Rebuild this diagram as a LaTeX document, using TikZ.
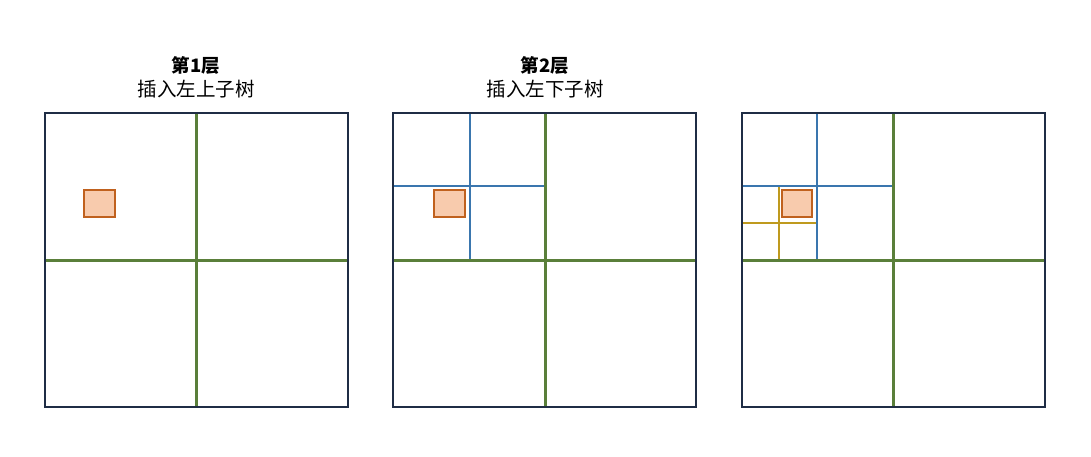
\documentclass[tikz,border=0pt]{standalone}
\usepackage{fontspec}
\newfontfamily\cjk{Noto Sans CJK SC}
\definecolor{framecol}{HTML}{1F2D45}
\definecolor{greencol}{HTML}{5A7F3A}
\definecolor{bluecol}{HTML}{3A76AE}
\definecolor{yellowcol}{HTML}{BF9A1E}
\definecolor{pointfill}{HTML}{F8CBAD}
\definecolor{pointdraw}{HTML}{C0611E}
\tikzset{
	frame/.style={line width=2.2pt,framecol},
	level1/.style={line width=3pt,greencol},
	level2/.style={line width=1.8pt,bluecol},
	level3/.style={line width=1.8pt,yellowcol},
	point/.style={line width=2pt,draw=pointdraw,fill=pointfill},
	title/.style={font=\cjk\fontsize{19.5}{23}\selectfont,align=center},
	head/.style={font=\cjk\bfseries\fontsize{18.5}{22}\selectfont,align=center}
}
\begin{document}
\begin{tikzpicture}[x=1pt,y=-1pt]
	\useasboundingbox (0,0) rectangle (1091,456);
	
	% layer 1
	\draw[level1] (196,113) -- (196,407);
	\draw[level1] (45,260) -- (348,260);
	\draw[frame] (45,113) rectangle (348,407);
	\draw[point] (84,190) rectangle (115,217);
	\node[head] (t1) at (196,65) {第1层};
	\node[title] (s1) at (196,89) {插入左上子树};
	
	% layer 2
	\draw[level2] (470,113) -- (470,260);
	\draw[level2] (393,186) -- (545,186);
	\draw[level1] (545,113) -- (545,407);
	\draw[level1] (393,260) -- (696,260);
	\draw[frame] (393,113) rectangle (696,407);
	\draw[point] (434,190) rectangle (465,217);
	\node[head] (t2) at (545,65) {第2层};
	\node[title] (s2) at (545,89) {插入左下子树};
	
	% layer 3
	\draw[level3] (779,186) -- (779,260);
	\draw[level3] (742,223) -- (817,223);
	\draw[level2] (817,113) -- (817,260);
	\draw[level2] (742,186) -- (893,186);
	\draw[level1] (893,113) -- (893,407);
	\draw[level1] (742,260) -- (1045,260);
	\draw[frame] (742,113) rectangle (1045,407);
	\draw[point] (782,190) rectangle (812,217);
	
\end{tikzpicture}
\end{document}
